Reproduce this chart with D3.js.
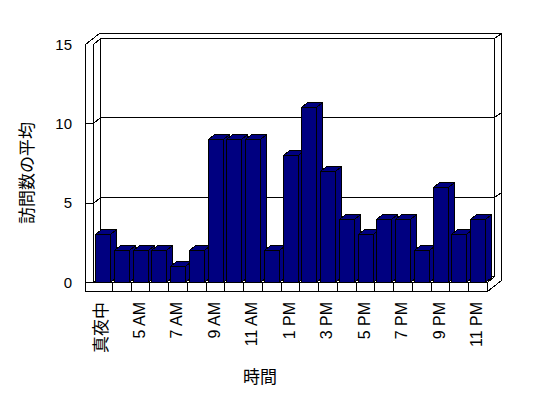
<!DOCTYPE html>
<html><head><meta charset="utf-8">
<script src="https://cdn.jsdelivr.net/npm/d3@7"></script>
<style>body{margin:0;background:#fff}svg{display:block}text{fill:#000}</style>
</head><body>
<script>
const categories = ["真夜中","4 AM","5 AM","6 AM","7 AM","8 AM","9 AM","10 AM","11 AM","12 PM","1 PM","2 PM","3 PM","4 PM","5 PM","6 PM","7 PM","8 PM","9 PM","10 PM","11 PM"];
const values = [3,2,2,2,1,2,9,9,9,2,8,11,7,4,3,4,4,2,6,3,4];
const shownLabels = ["真夜中","5 AM","7 AM","9 AM","11 AM","1 PM","3 PM","5 PM","7 PM","9 PM","11 PM"];
const yTicks = [0,5,10,15];
const yTitle = "訪問数の平均";
const xTitle = "時間";

const W = 548, H = 398;
const svg = d3.select("body").append("svg").attr("width", W).attr("height", H);

const L = 93.5, R = 487.5, B = 282.5, WL = 85.5, FB = 291.5;
const d1 = [7,-6], d2 = [7,-5];
const x = d3.scaleBand().domain(categories).range([L, R]).paddingInner(0).paddingOuter(0);
const y = d3.scaleLinear().domain([0,15]).range([B, 44.5]);
const T = y(15);
const stroke = "#000";
const snap = v => Math.round(v - 0.5) + 0.5;

const line = (pts, close) => "M" + pts.map(p => p.join(",")).join("L") + (close ? "Z" : "");

// outer silhouette
svg.append("path").attr("d", line([[WL,T],[WL+d1[0]+d2[0],T+d1[1]+d2[1]],[R+d1[0]+d2[0],T+d1[1]+d2[1]],
  [R+d1[0]+d2[0],FB+d1[1]+d2[1]],[R,FB],[WL,FB]], true))
  .attr("fill","#fff").attr("stroke",stroke).attr("shape-rendering","crispEdges");

const bx0 = L+d1[0], bx1 = R+d1[0], by0 = T+d1[1], by1 = B+d1[1];
const g = svg.append("g").attr("fill","none").attr("stroke",stroke).attr("shape-rendering","crispEdges");
// inner edges
g.append("path").attr("d", line([[L,T],[bx0,by0],[bx1,by0],[bx1+d2[0],by0+d2[1]]]));
g.append("path").attr("d", line([[bx1,by0],[bx1,by1],[R,B],[R,FB]]));
g.append("path").attr("d", line([[L,T],[L,B]]));
g.append("path").attr("d", line([[bx0,by0],[bx0,by1],[L,B]]));
g.append("path").attr("d", line([[bx0,by1],[bx1,by1]]));
g.append("path").attr("d", line([[WL,B],[R,B]]));
// gridlines
yTicks.forEach(v => {
  const yy = snap(y(v));
  if (v > 0 && v < 15) {
    g.append("path").attr("d", line([[WL,yy],[L,yy],[bx0,yy+d1[1]],[bx1,yy+d1[1]],[bx1+d2[0],yy+d1[1]+d2[1]]]));
  }
});
// x tick marks on floor front
categories.forEach((c,i) => {
  if (i === 0) return;
  const xx = snap(x(c));
  g.append("path").attr("d", line([[xx,B],[xx,FB]]));
});

// bars
const bw = 15, off = 2, dx = 6, dy = -5;
const bars = svg.append("g").attr("fill","#000080").attr("stroke",stroke).attr("shape-rendering","crispEdges");
categories.forEach((c,i) => {
  const v = values[i];
  const x0 = snap(x(c) + off), x1 = x0 + bw, yt = snap(y(v));
  const bg = bars.append("g");
  bg.append("path").attr("d", line([[x1,yt],[x1+dx,yt+dy],[x1+dx,B+dy],[x1,B]], true));
  bg.append("path").attr("d", line([[x0,yt],[x0+dx,yt+dy],[x1+dx,yt+dy],[x1,yt]], true));
  bg.append("rect").attr("x",x0).attr("y",yt).attr("width",bw).attr("height",B-yt);
});

// y labels
svg.append("g").selectAll("text").data(yTicks).join("text")
  .attr("x", 72).attr("y", d => y(d)).attr("dy","0.35em")
  .attr("text-anchor","end").attr("font-family","Liberation Sans, Arial, sans-serif")
  .attr("font-size",15).text(d => d);

// x labels
svg.append("g").selectAll("text").data(categories.filter(c => shownLabels.includes(c))).join("text")
  .attr("transform", d => `translate(${x(d)+x.bandwidth()/2-1.5},302) rotate(-90)`)
  .attr("dy","0.35em").attr("text-anchor","end").attr("fill","#000")
  .attr("font-family", d => /[^\x00-\x7f]/.test(d) ? "Noto Sans CJK JP, sans-serif" : "Liberation Sans, Arial, sans-serif")
  .attr("font-size", d => /[^\x00-\x7f]/.test(d) ? 17 : 16)
  .text(d => d);

// titles
svg.append("text").attr("transform","translate(27,173) rotate(-90)").attr("dy","0.35em")
  .attr("text-anchor","middle").attr("font-family","Noto Sans CJK JP, sans-serif").attr("font-size",17).text(yTitle);
svg.append("text").attr("x",260).attr("y",377).attr("dy","0.35em")
  .attr("text-anchor","middle").attr("font-family","Noto Sans CJK JP, sans-serif").attr("font-size",17).text(xTitle);
</script>
</body></html>
